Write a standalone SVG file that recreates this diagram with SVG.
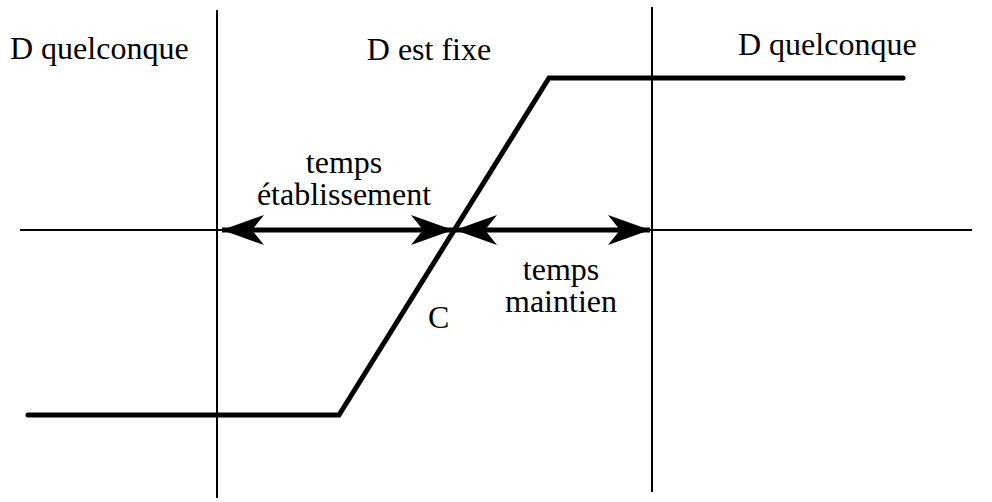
<svg xmlns="http://www.w3.org/2000/svg" width="992" height="502" viewBox="0 0 992 502">
<style>
.thin{stroke:#000;stroke-width:2;fill:none}
.wave{stroke:#000;stroke-width:5;fill:none;stroke-linecap:round}
.arr{stroke:#000;stroke-width:5;fill:none}
</style>
<defs>
<marker id="ah" markerUnits="userSpaceOnUse" viewBox="0 0 42 30" refX="42" refY="15" markerWidth="42" markerHeight="30" orient="auto-start-reverse">
<path d="M0,0 L42,15 L0,30 L12,15 Z" fill="#000"/>
</marker>
</defs>
<g id="axes">
<line class="thin" x1="20" y1="230" x2="972" y2="230"/>
<line class="thin" x1="217" y1="10" x2="217" y2="498"/>
<line class="thin" x1="652" y1="7" x2="652" y2="492"/>
</g>
<g id="signal">
<polyline class="wave" points="28,415 339,415 549,78 903,78"/>
</g>
<g id="connectors">
<line class="arr" x1="222" y1="230" x2="453" y2="230" marker-start="url(#ah)" marker-end="url(#ah)"/>
<line class="arr" x1="455" y1="230" x2="650" y2="230" marker-start="url(#ah)" marker-end="url(#ah)"/>
</g>
<text x="10" y="59" font-family="Liberation Serif" font-size="32">D quelconque</text>
<text x="429" y="60" text-anchor="middle" font-family="Liberation Serif" font-size="32">D est fixe</text>
<text x="738" y="55" font-family="Liberation Serif" font-size="32">D quelconque</text>
<text x="344" y="173" text-anchor="middle" font-family="Liberation Serif" font-size="32">temps</text>
<text x="344" y="205" text-anchor="middle" font-family="Liberation Serif" font-size="32">établissement</text>
<text x="561" y="280" text-anchor="middle" font-family="Liberation Serif" font-size="32">temps</text>
<text x="561" y="312" text-anchor="middle" font-family="Liberation Serif" font-size="32">maintien</text>
<text x="428" y="328" font-family="Liberation Serif" font-size="32">C</text>
</svg>
